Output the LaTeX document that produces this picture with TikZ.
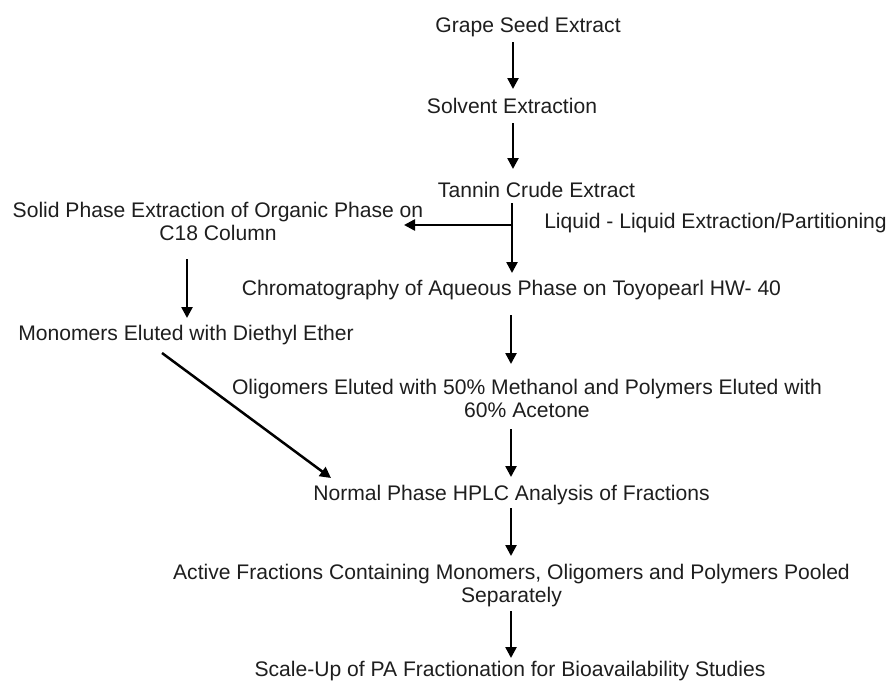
\documentclass[tikz,border=0pt]{standalone}
\usepackage{fontspec}
\setmainfont{Liberation Sans}
\usetikzlibrary{arrows.meta}
\definecolor{ink}{HTML}{1E1E1E}
\tikzset{
  lbl/.style={inner sep=0pt, text=ink, font=\fontsize{21.1}{23}\selectfont, anchor=base},
  lbl2/.style={inner sep=0pt, text=ink, font=\fontsize{21.1}{23}\selectfont, align=center, anchor=center},
  arr/.style={draw=black, line width=2.5pt, -{Triangle[length=11pt,width=11pt]}}
}
\begin{document}
\begin{tikzpicture}[x=1pt,y=-1pt]
\useasboundingbox (0,0) rectangle (891,680);
\fill[white] (0,0) rectangle (891,680);
% nodes
\node[lbl] (grape) at (528,32.5) {Grape Seed Extract};
\node[lbl] (solvent) at (512,113.5) {Solvent Extraction};
\node[lbl] (tannin) at (536.5,197.5) {Tannin Crude Extract};
\node[lbl2] (solid) at (218,221.5) {Solid Phase Extraction of Organic Phase on\\C18 Column};
\node[lbl] (liquid) at (715.5,228.5) {Liquid - Liquid Extraction/Partitioning};
\node[lbl] (chrom) at (511.5,295.5) {Chromatography of Aqueous Phase on Toyopearl HW- 40};
\node[lbl] (mono) at (186,340.5) {Monomers Eluted with Diethyl Ether};
\node[lbl2] (oligo) at (527,398.5) {Oligomers Eluted with 50\% Methanol and Polymers Eluted with\\60\% Acetone};
\node[lbl] (normal) at (511.5,500) {Normal Phase HPLC Analysis of Fractions};
\node[lbl2] (active) at (511.5,585.5) {Active Fractions Containing Monomers, Oligomers and Polymers Pooled\\Separately};
\node[lbl] (scale) at (510,676.5) {Scale-Up of PA Fractionation for Bioavailability Studies};
% connector end points
\coordinate (g1) at (513,42);   \coordinate (g2) at (513,89);
\coordinate (s1) at (513,123);  \coordinate (s2) at (513,169);
\coordinate (t1) at (512,203);  \coordinate (t2) at (512,273);
\coordinate (h1) at (512,225);  \coordinate (h2) at (404,225);
\coordinate (c1) at (187,259);  \coordinate (c2) at (187,318);
\coordinate (m1) at (162,353);  \coordinate (m2) at (331,478);
\coordinate (q1) at (511,315);  \coordinate (q2) at (511,364);
\coordinate (o1) at (511,429);  \coordinate (o2) at (511,477);
\coordinate (n1) at (511,508);  \coordinate (n2) at (511,556);
\coordinate (a1) at (511,611);  \coordinate (a2) at (511,658);
% connectors
\draw[arr] (g1) -- (g2);
\draw[arr] (s1) -- (s2);
\draw[arr] (t1) -- (t2);
\draw[arr] (h1) -- (h2);
\draw[arr] (c1) -- (c2);
\draw[arr] (m1) -- (m2);
\draw[arr] (q1) -- (q2);
\draw[arr] (o1) -- (o2);
\draw[arr] (n1) -- (n2);
\draw[arr] (a1) -- (a2);
\end{tikzpicture}
\end{document}
